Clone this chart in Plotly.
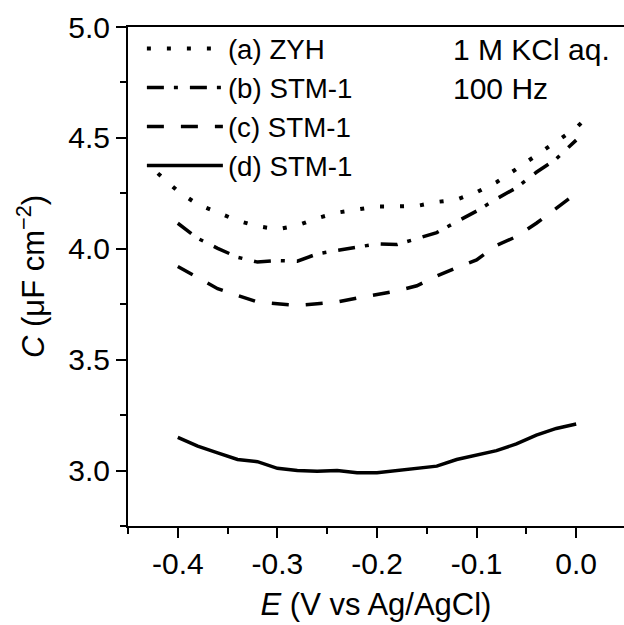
import plotly.graph_objects as go

# Potential axis (V vs Ag/AgCl)
E_main = [-0.40, -0.38, -0.36, -0.34, -0.32, -0.30, -0.28, -0.26, -0.24, -0.22, -0.20,
          -0.18, -0.16, -0.14, -0.12, -0.10, -0.08, -0.06, -0.04, -0.02, 0.00]
E_zyh = [-0.42] + E_main + [0.01]

# Capacitance (uF cm^-2)
C_a_zyh = [4.34, 4.26, 4.20, 4.163, 4.127, 4.102, 4.088, 4.105, 4.138, 4.163, 4.178, 4.191,
           4.191, 4.193, 4.211, 4.222, 4.255, 4.30, 4.36, 4.42, 4.48, 4.545, 4.59]
C_b_stm = [4.115, 4.047, 4.002, 3.962, 3.940, 3.947, 3.944, 3.977, 3.993, 4.008, 4.022,
           4.019, 4.048, 4.073, 4.122, 4.170, 4.225, 4.275, 4.345, 4.405, 4.49]
C_c_stm = [3.92, 3.87, 3.82, 3.79, 3.76, 3.752, 3.745, 3.752, 3.76, 3.778, 3.795,
           3.81, 3.833, 3.877, 3.915, 3.95, 4.015, 4.055, 4.115, 4.185, 4.25]
C_d_stm = [3.15, 3.11, 3.08, 3.05, 3.04, 3.01, 3.00, 2.997, 3.00, 2.99, 2.99,
           3.00, 3.01, 3.02, 3.05, 3.07, 3.09, 3.12, 3.16, 3.19, 3.21]

series_names = ["(a) ZYH", "(b) STM-1", "(c) STM-1", "(d) STM-1"]

x_tickvals = [-0.4, -0.3, -0.2, -0.1, 0.0]
x_ticktext = ["-0.4", "-0.3", "-0.2", "-0.1", "0.0"]
y_tickvals = [3.0, 3.5, 4.0, 4.5, 5.0]
y_ticktext = ["3.0", "3.5", "4.0", "4.5", "5.0"]

FONT = "Liberation Sans, Arial, sans-serif"
LW = 3.5

fig = go.Figure()
fig.add_trace(go.Scatter(x=E_zyh, y=C_a_zyh, mode="lines", name=series_names[0],
                         line=dict(color="black", width=4, dash="4px,16px")))
fig.add_trace(go.Scatter(x=E_main, y=C_b_stm, mode="lines", name=series_names[1],
                         line=dict(color="black", width=LW, dash="17px,10px,4px,12px")))
fig.add_trace(go.Scatter(x=E_main, y=C_c_stm, mode="lines", name=series_names[2],
                         line=dict(color="black", width=LW, dash="17px,17px")))
fig.add_trace(go.Scatter(x=E_main, y=C_d_stm, mode="lines", name=series_names[3],
                         line=dict(color="black", width=LW)))

axis_common = dict(
    showline=True, linecolor="black", linewidth=2,
    ticks="outside", ticklen=10, tickwidth=2, tickcolor="black",
    showgrid=False, zeroline=False,
    tickfont=dict(family=FONT, size=30, color="black"),
)

fig.update_xaxes(
    range=[-0.45, 0.048], tickmode="array", tickvals=x_tickvals, ticktext=x_ticktext,
    mirror=True,
    minor=dict(dtick=0.05, tick0=0.0, ticks="outside", ticklen=6, tickwidth=2, tickcolor="black"),
    title=dict(text="<i>E</i> (V vs Ag/AgCl)", font=dict(family=FONT, size=31, color="black"),
               standoff=14),
    **axis_common,
)
fig.update_yaxes(
    range=[2.75, 5.0], tickmode="array", tickvals=y_tickvals, ticktext=y_ticktext,
    mirror=False,
    minor=dict(dtick=0.25, tick0=0.0, ticks="outside", ticklen=6, tickwidth=2, tickcolor="black"),
    title=dict(text="<i>C</i> (μF cm<sup>−2</sup>)", font=dict(family=FONT, size=31, color="black"),
               standoff=14),
    **axis_common,
)

fig.add_annotation(
    xref="paper", yref="paper", x=(451 - 128) / 496, y=(526 - 31) / 499,
    xanchor="left", yanchor="top", align="left", showarrow=False,
    text="1 M KCl aq.<br>100 Hz", font=dict(family=FONT, size=30, color="black"),
)

fig.update_layout(
    width=624, height=625,
    margin=dict(l=128, r=0, t=27, b=99),
    plot_bgcolor="white", paper_bgcolor="white",
    showlegend=True,
    legend=dict(x=0.028, y=1.006, xanchor="left", yanchor="top",
                bgcolor="rgba(0,0,0,0)", borderwidth=0,
                font=dict(family=FONT, size=27.7, color="black"),
                itemwidth=76, tracegroupgap=0),
)

fig.write_html("out.html")
